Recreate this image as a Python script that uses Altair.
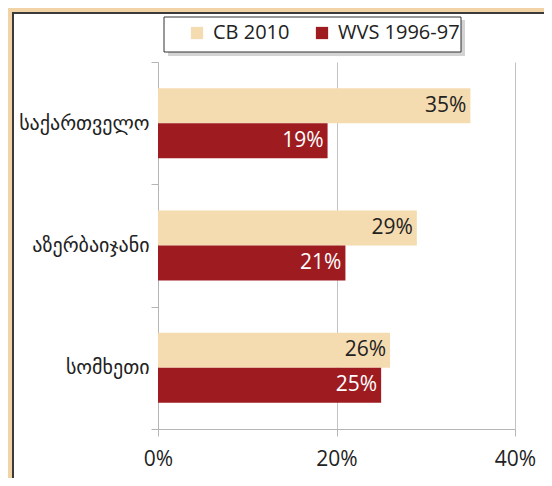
import altair as alt
import pandas as pd

countries = ["საქართველო", "აზერბაიჯანი", "სომხეთი"]
series = ["CB 2010", "WVS 1996-97"]
cb_2010 = [35, 29, 26]
wvs_1996 = [19, 21, 25]
x_ticks = [0, 20, 40]

rows = []
for i, c in enumerate(countries):
    rows.append({"country": c, "series": series[0], "value": cb_2010[i], "order": 0})
    rows.append({"country": c, "series": series[1], "value": wvs_1996[i], "order": 1})
df = pd.DataFrame(rows)
df["label"] = df["value"].astype(str) + "%"

BEIGE = "#f5dbb0"
RED = "#9e1b20"
FRAME = "#f2d3a6"
LATIN = "Open Sans"
GEO = "DejaVu Sans"

W, H = 357, 367

y_enc = alt.Y("country:N", sort=countries, title=None,
              scale=alt.Scale(paddingInner=0, paddingOuter=0),
              axis=alt.Axis(tickBand="extent", tickSize=7, tickColor="#b5b5b5",
                            domainColor="#b5b5b5", labelFont=GEO, labelFontSize=20,
                            labelColor="#222222", labelPadding=2, grid=False))
yoff = alt.YOffset("series:N", sort=series,
                   scale=alt.Scale(paddingInner=0, paddingOuter=0.75))
x_enc = alt.X("value:Q", title=None,
              scale=alt.Scale(domain=[0, 40]),
              axis=alt.Axis(values=x_ticks, labelExpr="datum.value + '%'",
                            grid=True, gridColor="#c2c2c2", tickSize=7,
                            tickColor="#b5b5b5", domainColor="#b5b5b5",
                            labelFont=LATIN, labelFontSize=21, labelColor="#222222",
                            labelPadding=12, labelFlush=False))

base = alt.Chart(df)

bars = base.mark_bar(size=35).encode(
    y=y_enc, yOffset=yoff, x=x_enc,
    color=alt.Color("series:N", sort=series,
                    scale=alt.Scale(domain=series, range=[BEIGE, RED]),
                    legend=alt.Legend(title=None, orient="none", direction="horizontal",
                                      legendX=29, legendY=-39, padding=0,
                                      symbolType="square", symbolSize=150,
                                      symbolStrokeWidth=0, labelOffset=6,
                                      columnPadding=22, labelFont=LATIN,
                                      labelFontSize=20, labelColor="#222222")),
)

text_cb = base.transform_filter(alt.datum.series == series[0]).mark_text(
    align="right", baseline="middle", dx=-4, font=LATIN, fontSize=21, color="#222222"
).encode(y=alt.Y("country:N", sort=countries), yOffset=yoff, x="value:Q", text="label:N")

text_wvs = base.transform_filter(alt.datum.series == series[1]).mark_text(
    align="right", baseline="middle", dx=-4, font=LATIN, fontSize=21, color="white"
).encode(y=alt.Y("country:N", sort=countries), yOffset=yoff, x="value:Q", text="label:N")

one = alt.Data(values=[{}])

shadow = alt.Chart(one).mark_rect(color="#c8c8c8", clip=False, opacity=0.8).encode(
    x=alt.value(10), x2=alt.value(307), y=alt.value(-42), y2=alt.value(-6))
legend_box = alt.Chart(one).mark_rect(fill="white", stroke="#333333", strokeWidth=1,
                                      clip=False).encode(
    x=alt.value(6), x2=alt.value(303), y=alt.value(-45), y2=alt.value(-10))
frame_top = alt.Chart(one).mark_rect(color=FRAME, clip=False).encode(
    x=alt.value(-150), x2=alt.value(386), y=alt.value(-54), y2=alt.value(-50))
frame_left = alt.Chart(one).mark_rect(color=FRAME, clip=False).encode(
    x=alt.value(-150), x2=alt.value(-146), y=alt.value(-54), y2=alt.value(416))
line_top = alt.Chart(one).mark_rect(color="#3a3a3a", clip=False).encode(
    x=alt.value(-146), x2=alt.value(386), y=alt.value(-50), y2=alt.value(-48))
line_left = alt.Chart(one).mark_rect(color="#3a3a3a", clip=False).encode(
    x=alt.value(-146), x2=alt.value(-144), y=alt.value(-50), y2=alt.value(416))

chart = alt.layer(
    frame_top, frame_left, line_top, line_left, shadow, legend_box,
    bars, text_cb, text_wvs
).properties(
    width=W, height=H,
    autosize=alt.AutoSizeParams(type="none"),
    padding={"left": 150, "top": 54, "right": 29, "bottom": 49},
    background="white",
).configure_view(stroke=None)

chart.save("out.html", embed_options={"renderer": "svg", "actions": False})
